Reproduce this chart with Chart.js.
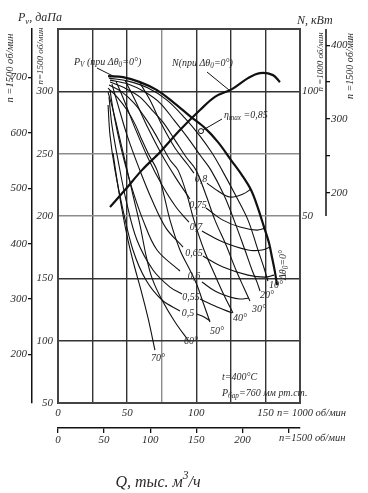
<!DOCTYPE html>
<html>
<head>
<meta charset="utf-8">
<script src="https://cdn.jsdelivr.net/npm/chart.js@4.4.0/dist/chart.umd.min.js"></script>
<style>
  html, body { margin: 0; padding: 0; background: #fff; }
  canvas { display: block; }
</style>
</head>
<body>
<canvas id="fanChart" width="368" height="493"></canvas>
<script>
"use strict";

// axis ticks (Q in thousand m3/h, P in daPa, N in kW)
const qTicks1000 = [0, 50, 100, 150];
const qGrid1000 = [0, 25, 50, 75, 100, 125, 150, 175];
const qTicks1500 = [0, 50, 100, 150, 200, 250];
const pTicks1000 = [50, 100, 150, 200, 250, 300, 350];
const pTicks1500 = [200, 300, 400, 500, 600, 700];
const nTicks1000 = [50, 100];
const nTicks1500 = [200, 250, 300, 350, 400];

// pressure curves for guide vane angles, [Q, P]
const theta0 = [[36.2, 312.2], [47.0, 311.4], [59.3, 307.4], [71.6, 301.0], [83.2, 291.4], [95.4, 280.1], [106.3, 270.5], [115.7, 259.3], [125.1, 244.9], [133.0, 232.8], [139.6, 220.8], [144.6, 206.4], [149.0, 191.1], [152.6, 178.3], [154.7, 167.1], [156.9, 155.0], [158.4, 144.6]];
const theta10 = [[36.9, 310.6], [50.6, 308.2], [65.1, 302.6], [78.8, 293.0], [91.8, 278.5], [102.7, 264.1], [111.4, 250.5], [118.6, 236.8], [128.7, 216.0], [137.4, 196.7], [144.6, 172.7], [149.0, 158.3], [151.8, 147.8]];
const theta20 = [[37.6, 309.0], [50.6, 305.8], [62.9, 299.4], [73.8, 290.6], [83.9, 276.9], [94.0, 262.5], [102.7, 248.9], [110.6, 236.8], [120.0, 216.8], [127.3, 196.7], [135.2, 172.7], [140.3, 156.7], [143.9, 147.0], [146.1, 139.8]];
const theta30 = [[37.6, 307.4], [48.4, 302.6], [59.3, 295.4], [68.0, 285.0], [75.9, 275.3], [84.6, 260.9], [92.6, 247.3], [99.8, 236.8], [107.0, 216.8], [113.5, 196.7], [121.5, 176.7], [128.7, 156.7], [134.5, 142.2], [138.8, 131.8]];
const theta40 = [[36.9, 305.0], [46.3, 299.4], [55.0, 290.6], [62.2, 280.1], [68.7, 268.9], [75.2, 256.1], [81.0, 244.9], [86.8, 236.8], [93.3, 216.8], [98.3, 196.7], [105.6, 172.7], [113.5, 152.6], [120.0, 136.6], [126.5, 122.2]];
const theta50 = [[36.2, 302.6], [43.4, 294.6], [49.9, 285.0], [55.7, 273.7], [60.7, 260.9], [65.8, 248.9], [71.6, 236.8], [76.6, 216.8], [81.0, 196.7], [88.2, 172.7], [95.4, 156.7], [100.5, 144.6], [104.8, 131.0], [109.9, 115.0]];
const theta60 = [[36.2, 299.4], [39.8, 285.0], [44.1, 264.9], [49.2, 240.9], [54.2, 216.8], [59.3, 192.7], [63.6, 168.7], [68.0, 150.2], [75.2, 132.6], [84.6, 115.0], [94.0, 100.5]];
const theta70 = [[39.8, 250.5], [42.7, 228.8], [46.3, 204.8], [50.6, 180.7], [55.0, 160.7], [60.0, 140.6], [65.1, 118.2], [70.1, 92.5]];

// efficiency lines, low-Q and high-Q branches, [Q, P]
const eta80L = [[59.3, 306.6], [66.5, 293.0], [75.2, 272.9], [84.6, 254.5], [94.0, 240.9], [98.3, 234.4]];
const eta80R = [[107.7, 226.4], [115.7, 220.0], [124.4, 215.2], [133.8, 217.6], [139.6, 221.6]];
const eta75L = [[48.4, 309.0], [55.7, 293.0], [65.1, 270.5], [75.2, 248.9], [85.3, 230.4], [95.4, 213.6]];
const eta75R = [[107.0, 206.4], [119.3, 196.7], [131.6, 191.1], [143.9, 188.7], [149.7, 190.3]];
const eta70L = [[41.9, 308.2], [47.7, 293.0], [55.7, 270.5], [65.1, 246.5], [75.2, 224.8], [85.3, 207.2], [94.7, 195.1]];
const eta70R = [[104.1, 187.9], [119.3, 179.1], [137.4, 172.7], [147.5, 172.7], [153.3, 175.1]];
const eta65L = [[39.0, 305.8], [43.4, 289.0], [49.9, 264.9], [58.6, 238.4], [68.0, 212.8], [78.1, 190.3], [90.4, 175.1]];
const eta65R = [[104.8, 167.9], [119.3, 159.1], [137.4, 152.6], [149.7, 151.0], [156.2, 152.6]];
const eta60L = [[37.6, 301.0], [40.5, 280.9], [45.6, 254.5], [52.8, 224.8], [61.5, 196.7], [71.6, 172.7], [88.2, 155.9]];
const eta60R = [[104.1, 147.0], [113.5, 139.8], [124.4, 135.0], [131.6, 133.4], [138.1, 134.2]];
const eta55L = [[36.9, 295.4], [39.0, 272.9], [43.4, 244.9], [49.2, 212.8], [57.1, 180.7], [68.7, 156.7], [81.0, 143.0], [89.7, 137.4]];
const eta55R = [[102.7, 133.4], [113.5, 127.8], [125.8, 122.2]];
const eta50L = [[36.2, 289.0], [37.6, 264.9], [41.2, 236.8], [47.0, 204.8], [54.2, 172.7], [63.6, 148.6], [75.2, 132.6], [88.2, 123.8]];
const eta50R = [[100.5, 121.4], [105.6, 119.0], [109.9, 115.8]];
const etaMax = [[103.4, 268.1]];

// shaft power at n = 1000, [Q, N]
const power0 = [[37.6, 53.6], [48.4, 60.4], [60.7, 68.4], [73.7, 75.6], [88.2, 84.5], [102.7, 92.5], [113.5, 97.8], [125.8, 100.9], [137.4, 105.3], [146.1, 107.3], [155.5, 106.5], [160.5, 103.7]];

const SERIF = '"Liberation Serif", "DejaVu Serif", serif';
const INK = '#111';
const TXT = '#2a2a2a';

function tickFont(size) {
    return { family: SERIF, size: size, style: 'italic' };
}
function fixTicks(values) {
    return (scale) => { scale.ticks = values.map(v => ({ value: v })); };
}
function fixWidth(w) {
    return (scale) => { scale.width = w; };
}
function fixHeight(h) {
    return (scale) => { scale.height = h; };
}

function curve(points, width, axis) {
    return {
        data: points.map(([x, y]) => ({ x, y })),
        showLine: true,
        borderColor: INK,
        borderWidth: width,
        pointRadius: 0,
        tension: 0.35,
        fill: false,
        yAxisID: axis || 'y'
    };
}

// text with sub/superscripts: parts = [[text, 'sub'|'sup'|undefined], ...]
function rich(ctx, x, y, parts, size, align) {
    const widthOf = (t, mode) => {
        ctx.font = `italic ${mode ? size * 0.72 : size}px ${SERIF}`;
        return ctx.measureText(t).width;
    };
    let total = 0;
    parts.forEach(([t, mode]) => { total += widthOf(t, mode); });
    let cx = align === 'center' ? x - total / 2 : x;
    ctx.textAlign = 'left';
    ctx.textBaseline = 'middle';
    parts.forEach(([t, mode]) => {
        const w = widthOf(t, mode);
        const dy = mode === 'sub' ? size * 0.3 : mode === 'sup' ? -size * 0.42 : 0;
        ctx.fillText(t, cx, y + dy);
        cx += w;
    });
}

function rotated(ctx, x, y, parts, size) {
    ctx.save();
    ctx.translate(x, y);
    ctx.rotate(-Math.PI / 2);
    rich(ctx, 0, 0, parts, size, 'center');
    ctx.restore();
}

const annotations = {
    id: 'annotations',
    beforeDatasetsDraw(chart) {
        const { ctx, chartArea: a, scales } = chart;
        ctx.save();
        ctx.strokeStyle = '#444';
        ctx.lineWidth = 2;
        ctx.strokeRect(a.left, a.top, a.right - a.left, a.bottom - a.top);
        // outer power axis only covers the upper part
        const s = scales.yN15;
        ctx.strokeStyle = INK;
        ctx.lineWidth = 1.5;
        ctx.beginPath();
        ctx.moveTo(s.left, a.top);
        ctx.lineTo(s.left, s.getPixelForValue(168.75));
        ctx.stroke();
        ctx.restore();
    },
    afterDraw(chart) {
        const ctx = chart.ctx;
        ctx.save();
        ctx.fillStyle = TXT;

        rich(ctx, 18, 18, [['P'], ['v', 'sub'], [', даПа']], 12);
        rich(ctx, 297, 21, [['N, кВт']], 12);
        rotated(ctx, 10, 68, [['n =1500 об/мин']], 10.5);
        rotated(ctx, 41, 56, [['n=1500 об/мин']], 9);
        rotated(ctx, 321, 62, [['n =1000 об/мин']], 9);
        rotated(ctx, 350, 66, [['n =1500 об/мин']], 10);
        rich(ctx, 277, 413, [['n= 1000 об/мин']], 10.5);
        rich(ctx, 279, 438, [['n=1500 об/мин']], 10.5);
        rich(ctx, 158, 483, [['Q, тыс. м'], ['3', 'sup'], ['/ч']], 16, 'center');

        rich(ctx, 74, 62, [['P'], ['V', 'sub'], [' (при Δθ'], ['0', 'sub'], ['=0°)']], 10);
        rich(ctx, 172, 63, [['N(при Δθ'], ['0', 'sub'], ['=0°)']], 10);
        rich(ctx, 224, 115, [['η'], ['max', 'sub'], [' =0,85']], 10);
        rich(ctx, 222, 377, [['t=400°C']], 10);
        rich(ctx, 222, 393, [['P'], ['бар', 'sub'], ['=760 мм рт.ст.']], 10);
        rotated(ctx, 283, 265, [['Δθ'], ['0', 'sub'], ['=0°']], 10);

        const etaText = [['0,8', 201, 179], ['0,75', 198, 205], ['0,7', 196, 227], ['0,65', 194, 253],
                         ['0,6', 194, 276], ['0,55', 191, 297], ['0,5', 188, 313]];
        etaText.forEach(([t, x, y]) => rich(ctx, x, y, [[t]], 10, 'center'));
        const angleText = [['10°', 276, 285], ['20°', 267, 295], ['30°', 259, 309], ['40°', 240, 318],
                           ['50°', 217, 331], ['60°', 191, 341], ['70°', 158, 358]];
        angleText.forEach(([t, x, y]) => rich(ctx, x, y, [[t]], 10, 'center'));

        // leader lines
        ctx.strokeStyle = INK;
        ctx.lineWidth = 1;
        [[97, 68, 115, 77], [207, 72, 229, 90], [203, 130, 222, 119]].forEach(([x1, y1, x2, y2]) => {
            ctx.beginPath();
            ctx.moveTo(x1, y1);
            ctx.lineTo(x2, y2);
            ctx.stroke();
        });
        ctx.restore();
    }
};

const grayQ = [75];
const grayP = [200, 250];

const datasets = [
    curve(eta80L, 1.1), curve(eta80R, 1.1),
    curve(eta75L, 1.1), curve(eta75R, 1.1),
    curve(eta70L, 1.1), curve(eta70R, 1.1),
    curve(eta65L, 1.1), curve(eta65R, 1.1),
    curve(eta60L, 1.1), curve(eta60R, 1.1),
    curve(eta55L, 1.1), curve(eta55R, 1.1),
    curve(eta50L, 1.1), curve(eta50R, 1.1),
    curve(theta10, 1.1), curve(theta20, 1.1), curve(theta30, 1.1), curve(theta40, 1.1),
    curve(theta50, 1.1), curve(theta60, 1.1), curve(theta70, 1.1),
    curve(theta0, 2.2),
    curve(power0, 2.2, 'yN'),
    {
        data: etaMax.map(([x, y]) => ({ x, y })),
        showLine: false,
        pointRadius: 2.5,
        pointBackgroundColor: '#fff',
        pointBorderColor: INK,
        pointBorderWidth: 1,
        yAxisID: 'y'
    }
];

new Chart(document.getElementById('fanChart'), {
    type: 'scatter',
    data: { datasets: datasets },
    options: {
        responsive: false,
        animation: false,
        devicePixelRatio: 1,
        layout: { padding: { top: 29, bottom: 45, left: 0, right: 0 } },
        plugins: { legend: { display: false }, tooltip: { enabled: false } },
        scales: {
            x: {
                type: 'linear', position: 'bottom', weight: 0, min: 0, max: 175,
                afterBuildTicks: fixTicks(qGrid1000),
                afterFit: fixHeight(25),
                ticks: {
                    callback: v => qTicks1000.includes(v) ? v : '',
                    font: tickFont(11), color: TXT, padding: 4, maxRotation: 0, autoSkip: false
                },
                grid: {
                    color: c => (c.tick.value === 0 || c.tick.value === 175) ? 'rgba(0,0,0,0)'
                        : grayQ.includes(c.tick.value) ? '#8c8c8c' : '#333',
                    lineWidth: 1.4, drawTicks: false
                },
                border: { display: false }
            },
            x2: {
                type: 'linear', position: 'bottom', weight: 1, min: 0, max: 262.5,
                afterBuildTicks: fixTicks(qTicks1500),
                afterFit: fixHeight(20),
                ticks: {
                    callback: v => v === 250 ? '' : v,
                    font: tickFont(11), color: TXT, padding: 1, maxRotation: 0, autoSkip: false
                },
                grid: { drawOnChartArea: false, drawTicks: true, tickLength: 5, color: INK, lineWidth: 1.3 },
                border: { display: true, color: INK, width: 1.5 }
            },
            y: {
                type: 'linear', position: 'left', weight: 0, min: 50, max: 350,
                afterBuildTicks: fixTicks(pTicks1000),
                afterFit: fixWidth(26),
                ticks: {
                    callback: v => v === 350 ? '' : v,
                    font: tickFont(11), color: TXT, padding: 5, autoSkip: false
                },
                grid: {
                    color: c => (c.tick.value === 50 || c.tick.value === 350) ? 'rgba(0,0,0,0)'
                        : grayP.includes(c.tick.value) ? '#8c8c8c' : '#333',
                    lineWidth: 1.4, drawTicks: false
                },
                border: { display: false }
            },
            yP15: {
                type: 'linear', position: 'left', weight: 1, min: 112.5, max: 787.5,
                afterBuildTicks: fixTicks(pTicks1500),
                afterFit: fixWidth(32),
                ticks: { font: tickFont(11), color: TXT, padding: 1, autoSkip: false },
                grid: { drawOnChartArea: false, drawTicks: true, tickLength: 4, color: INK, lineWidth: 1.3 },
                border: { display: true, color: INK, width: 1.5 }
            },
            yN: {
                type: 'linear', position: 'right', weight: 0, min: -25, max: 125,
                afterBuildTicks: fixTicks(nTicks1000),
                afterFit: fixWidth(26),
                ticks: { font: tickFont(11), color: TXT, padding: 2, autoSkip: false },
                grid: { display: false, drawTicks: false },
                border: { display: false }
            },
            yN15: {
                type: 'linear', position: 'right', weight: 1, min: -84.375, max: 421.875,
                afterBuildTicks: fixTicks(nTicks1500),
                afterFit: fixWidth(42),
                ticks: {
                    callback: v => v % 100 === 0 ? v : '',
                    font: tickFont(11), color: TXT, padding: 1, autoSkip: false
                },
                grid: { drawOnChartArea: false, drawTicks: true, tickLength: 4, color: INK, lineWidth: 1.3 },
                border: { display: false }
            }
        }
    },
    plugins: [annotations]
});
</script>
</body>
</html>
